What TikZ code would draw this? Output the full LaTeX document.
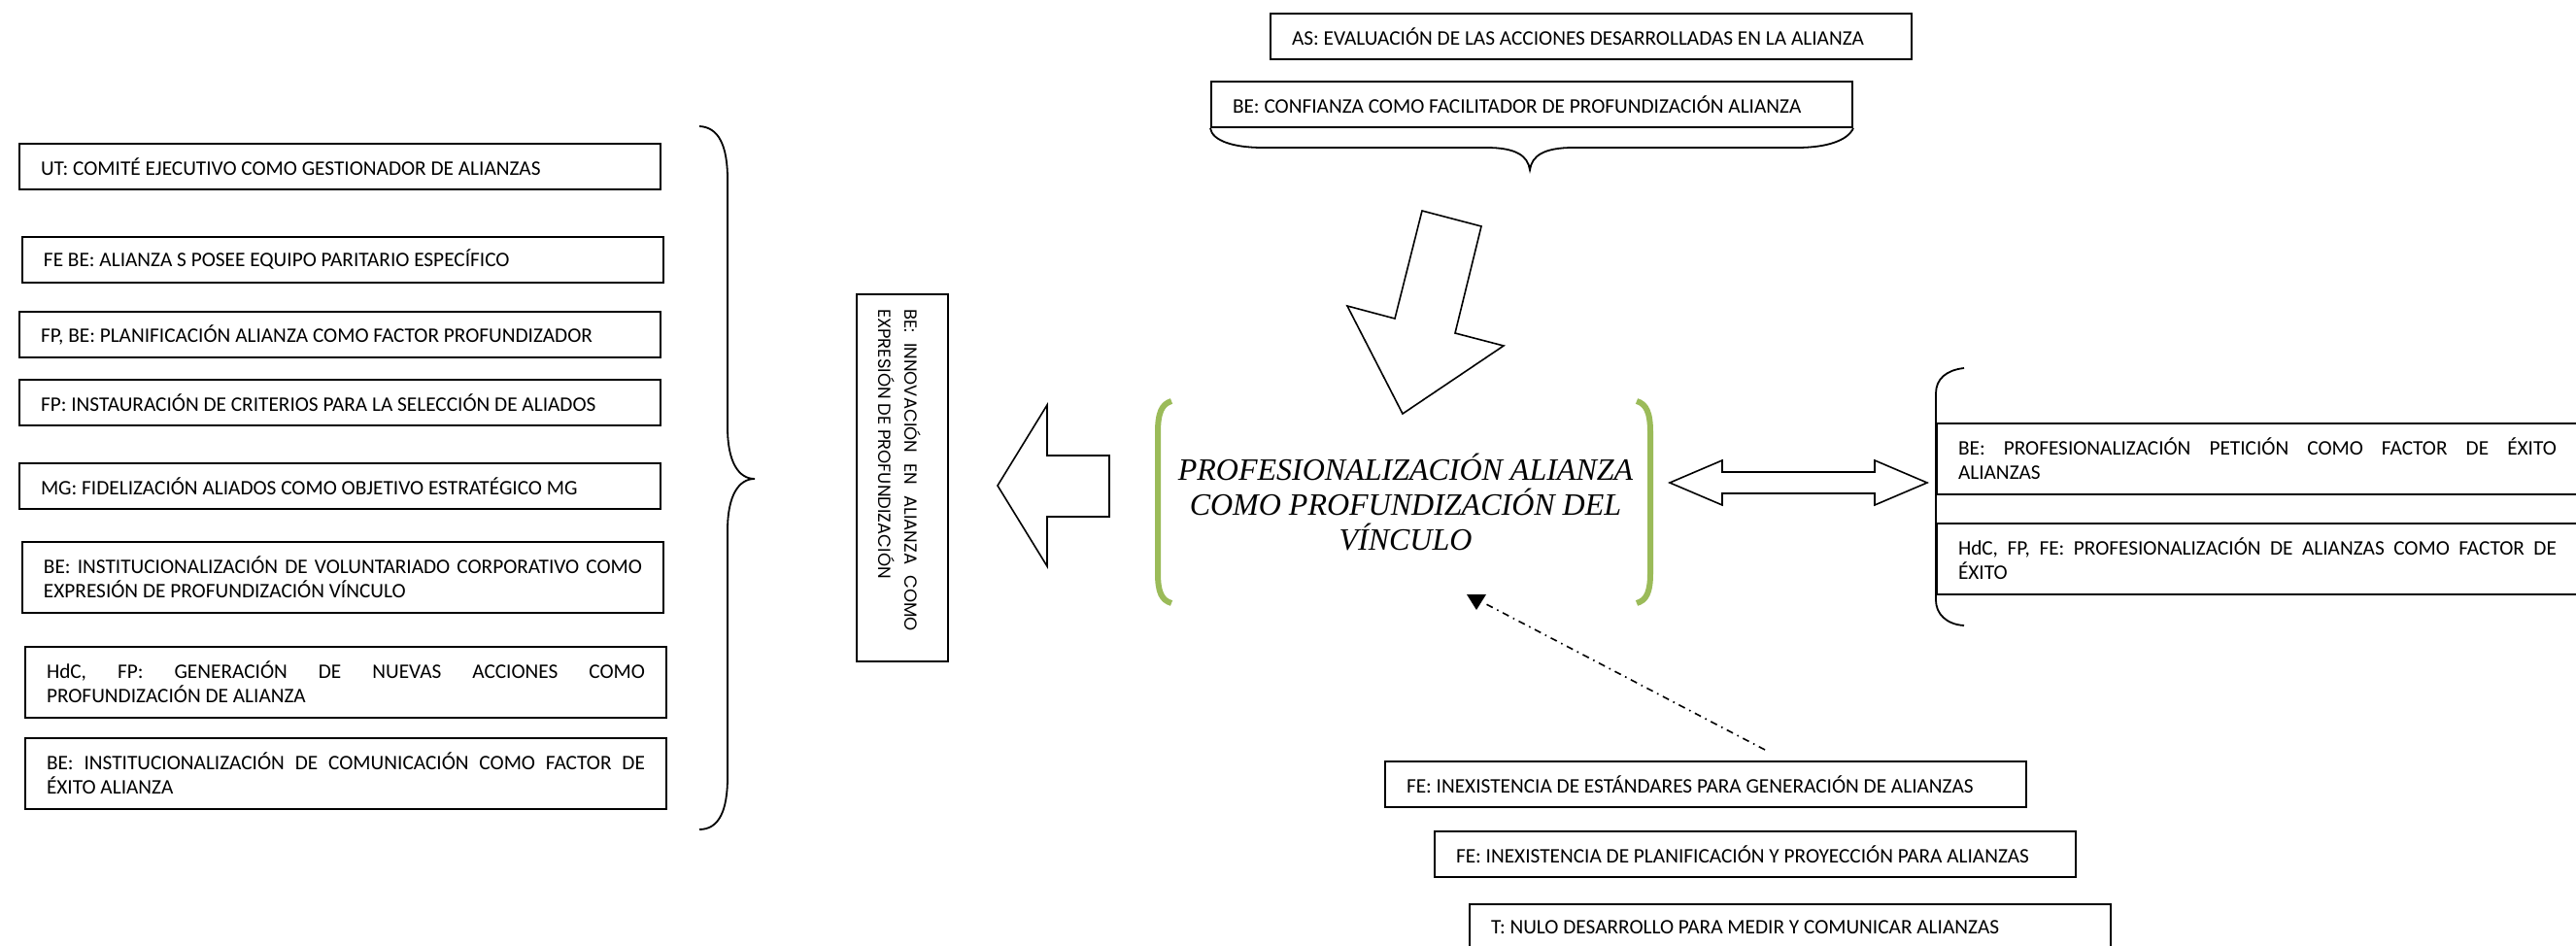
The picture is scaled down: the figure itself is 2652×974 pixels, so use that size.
\documentclass[tikz,border=0pt]{standalone}
\usepackage{fontspec}
\setmainfont{Carlito}
\newfontfamily\serifit{Liberation Serif}
\newfontfamily\geofont{Poppins}
\definecolor{grn}{HTML}{9BBB59}
\hyphenpenalty=10000
\exhyphenpenalty=10000
\begin{document}
\begin{tikzpicture}[x=0.5pt,y=-0.5pt,
  tbox/.style={draw, line width=1pt, inner xsep=11pt, inner ysep=0pt, text width=308pt,
    align=justify, anchor=north west, font=\fontsize{10.65}{12.5}\selectfont, minimum height=23.5pt},
  tall/.style={minimum height=36.5pt},
  blk/.style={draw, line width=0.8pt, fill=white, line join=miter},
  bracepath/.style={draw, line width=0.9pt},
  grnbr/.style={draw=grn, line width=3pt},
  dashdotline/.style={draw, line width=0.8pt, dash pattern=on 3.5pt off 2.5pt on 0.8pt off 2.5pt}
]
\clip (0,0) rectangle (2652,974);
\fill[white] (0,0) rectangle (2652,974);

% left column
\node[tbox] (b1) at (19,147) {UT: COMITÉ EJECUTIVO COMO GESTIONADOR DE ALIANZAS};
\node[tbox] (b2) at (22,243) {FE BE: ALIANZA S POSEE EQUIPO PARITARIO ESPECÍFICO};
\node[tbox] (b3) at (19,320) {FP, BE: PLANIFICACIÓN ALIANZA COMO FACTOR PROFUNDIZADOR};
\node[tbox] (b4) at (19,390) {FP: INSTAURACIÓN DE CRITERIOS PARA LA SELECCIÓN DE ALIADOS};
\node[tbox] (b5) at (19,476) {MG: FIDELIZACIÓN ALIADOS COMO OBJETIVO ESTRATÉGICO MG};
\node[tbox,tall] (b6) at (22,557) {BE: INSTITUCIONALIZACIÓN DE VOLUNTARIADO CORPORATIVO COMO\linebreak EXPRESIÓN DE PROFUNDIZACIÓN VÍNCULO};
\node[tbox,tall] (b7) at (25,665) {HdC, FP: GENERACIÓN DE NUEVAS ACCIONES COMO\linebreak PROFUNDIZACIÓN DE ALIANZA};
\node[tbox,tall] (b8) at (25,759) {BE: INSTITUCIONALIZACIÓN DE COMUNICACIÓN COMO FACTOR DE\linebreak ÉXITO ALIANZA};

% left brace
\path[bracepath] (720,130) .. controls (740,131) and (749,150) .. (749,185) -- (749,440)
  .. controls (749,475) and (760,493) .. (777,493)
  .. controls (760,493) and (749,511) .. (749,546) -- (749,800)
  .. controls (749,835) and (740,854) .. (720,854);

% vertical box and its text
\node[draw, line width=1pt, minimum width=47pt, minimum height=189pt, inner sep=0pt] (v) at (929,492) {};
\node[rotate=-90, text width=166pt, inner sep=0pt, align=justify,
  font=\geofont\fontsize{9}{13.5}\selectfont] (vtext) at (926,484)
  {BE: INNOVACIÓN EN ALIANZA COMO\linebreak EXPRESIÓN DE PROFUNDIZACIÓN};

% left block arrow
\path[blk] (1142,469) -- (1078,469) -- (1078,417) -- (1027,500) -- (1078,583) -- (1078,532) -- (1142,532) -- cycle;

% top boxes
\node[tbox] (as) at (1307,13) {AS: EVALUACIÓN DE LAS ACCIONES DESARROLLADAS EN LA ALIANZA};
\node[tbox] (conf) at (1246,83) {BE: CONFIANZA COMO FACILITADOR DE PROFUNDIZACIÓN ALIANZA};
\path[bracepath] (conf.south west) .. controls (1248,145) and (1270,152) .. (1300,152) -- (1530,152)
  .. controls (1560,152) and (1573,160) .. (1575,175)
  .. controls (1577,160) and (1590,152) .. (1620,152) -- (1850,152)
  .. controls (1880,152) and (1902,145) .. (conf.south east);

% down block arrow
\path[blk] (1464,217) -- (1525,233) -- (1498,343) -- (1548,356) -- (1444,426) -- (1387,315) -- (1436,328) -- cycle;

% centre
\path[grnbr] (1206,413) .. controls (1196,416) and (1192,425) .. (1192,445) -- (1192,590)
  .. controls (1192,610) and (1196,618) .. (1206,621);
\path[grnbr] (1685,413) .. controls (1695,416) and (1699,425) .. (1699,445) -- (1699,590)
  .. controls (1699,610) and (1695,618) .. (1685,621);
\node[font=\serifit\itshape\fontsize{16}{17.8}\selectfont, align=center] (core) at (1447,517)
  {PROFESIONALIZACIÓN ALIANZA\\COMO PROFUNDIZACIÓN DEL\\VÍNCULO};

% double arrow
\path[blk] (1719,497) -- (1773,474) -- (1773,486) -- (1930,486) -- (1930,474) -- (1984,497)
  -- (1930,520) -- (1930,508) -- (1773,508) -- (1773,520) -- cycle;

% right bracket and boxes
\path[bracepath] (2022,379) .. controls (2004,381) and (1993,390) .. (1993,405) -- (1993,618)
  .. controls (1993,632) and (2004,643) .. (2022,644);
\node[tbox,tall] (r1) at (1993,435) {BE: PROFESIONALIZACIÓN PETICIÓN COMO FACTOR DE ÉXITO\linebreak ALIANZAS};
\node[tbox,tall] (r2) at (1993,538) {HdC, FP, FE: PROFESIONALIZACIÓN DE ALIANZAS COMO FACTOR DE\linebreak ÉXITO};

% bottom boxes
\node[tbox] (fe1) at (1425,783) {FE: INEXISTENCIA DE ESTÁNDARES PARA GENERACIÓN DE ALIANZAS};
\node[tbox] (fe2) at (1476,855) {FE: INEXISTENCIA DE PLANIFICACIÓN Y PROYECCIÓN PARA ALIANZAS};
\node[tbox] (tt) at (1512,930) {T: NULO DESARROLLO PARA MEDIR Y COMUNICAR ALIANZAS};

% dash-dot connector
\coordinate (dtail) at (1817,772);
\coordinate (dhead) at (1530,622);
\path[dashdotline] (dtail) -- (dhead);
\fill (1510,612) -- (1530,612) -- (1520,628) -- cycle;
\end{tikzpicture}
\end{document}
